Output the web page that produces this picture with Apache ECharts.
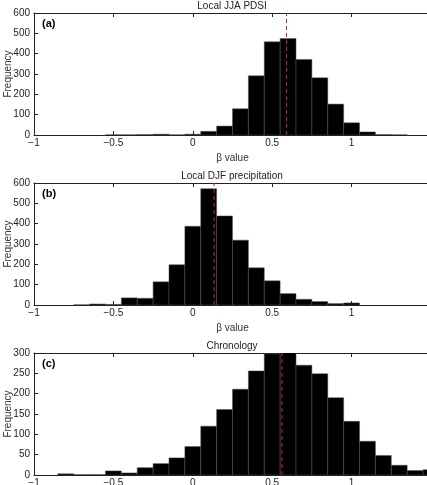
<!DOCTYPE html>
<html>
<head>
<meta charset="utf-8">
<script src="https://cdn.jsdelivr.net/npm/echarts@6/dist/echarts.min.js"></script>
<style>
  html, body { margin: 0; padding: 0; background: #fff; }
  #chart { width: 427px; height: 485px; }
</style>
</head>
<body>
<div id="chart"></div>
<script>
// bin centres (bin width 0.1)
var binCenters = [-0.9, -0.8, -0.7, -0.6, -0.5, -0.4, -0.3, -0.2, -0.1, 0, 0.1, 0.2, 0.3, 0.4,
                  0.5, 0.6, 0.7, 0.8, 0.9, 1.0, 1.1, 1.2, 1.3, 1.4, 1.5];
var pdsiCounts   = [0, 0, 0, 0, 1, 1, 2, 4, 1, 4, 18, 44, 129, 291, 458, 474, 371, 281, 152, 60, 15, 2, 1, 0, 0];
var precipCounts = [0, 0, 1, 5, 3, 35, 33, 114, 198, 387, 572, 438, 319, 183, 119, 56, 28, 17, 7, 10, 0, 0, 0, 0, 0];
var chronCounts  = [0, 3, 1, 1, 10, 5, 18, 28, 42, 70, 120, 161, 211, 256, 298, 305, 270, 249, 190, 132, 83, 48, 24, 11, 13];
var medians = [0.59, 0.134, 0.562];
var titles = ['Local JJA PDSI', 'Local DJF precipitation', 'Chronology'];
var panelLabels = ['(a)', '(b)', '(c)'];
var yMax = [600, 600, 300];
var yInterval = [100, 100, 50];
var xTicks = [-1, -0.5, 0, 0.5, 1, 1.5];
var binWidth = 0.1;

var chart = echarts.init(document.getElementById('chart'));

var gridTops = [13, 183, 353];
var gridH = 122;
var counts = [pdsiCounts, precipCounts, chronCounts];

var grids = [], xAxes = [], yAxes = [], series = [], titleList = [];
var fontFam = 'Liberation Sans, Arial, sans-serif';

for (var i = 0; i < 3; i++) {
    grids.push({ left: 34, right: -4, top: gridTops[i], height: gridH, containLabel: false, outerBoundsMode: 'none' });
    xAxes.push({
        type: 'value', gridIndex: i, min: xTicks[0], max: xTicks[xTicks.length - 1], interval: 0.5,
        position: 'bottom',
        name: i < 2 ? 'β value' : '', nameLocation: 'middle', nameGap: 18, nameMoveOverlap: false,
        nameTextStyle: { fontFamily: fontFam, fontSize: 10, color: '#333' },
        axisLine: { onZero: false, lineStyle: { color: '#222', width: 1 } },
        axisTick: { inside: true, length: 4, lineStyle: { color: '#222' } },
        axisLabel: {
            margin: 3, fontFamily: fontFam, fontSize: 10, color: '#222', showMaxLabel: false,
            formatter: function (v) { return String(v).replace('-', '\u2212'); }
        },
        splitLine: { show: false }
    });
    xAxes.push({
        type: 'value', gridIndex: i, min: xTicks[0], max: xTicks[xTicks.length - 1], interval: 0.5,
        position: 'top',
        axisLine: { onZero: false, lineStyle: { color: '#222', width: 1 } },
        axisTick: { inside: true, length: 4, lineStyle: { color: '#222' } },
        axisLabel: { show: false },
        splitLine: { show: false }
    });
    yAxes.push({
        type: 'value', gridIndex: i, min: 0, max: yMax[i], interval: yInterval[i],
        position: 'left',
        name: 'Frequency', nameLocation: 'middle', nameGap: 26, nameRotate: 90, nameMoveOverlap: false,
        nameTextStyle: { fontFamily: fontFam, fontSize: 10, color: '#333', verticalAlign: 'middle' },
        axisLine: { show: true, onZero: false, lineStyle: { color: '#222', width: 1 } },
        axisTick: { show: true, inside: true, length: 4, lineStyle: { color: '#222' } },
        axisLabel: { margin: 4, fontFamily: fontFam, fontSize: 10, color: '#222' },
        splitLine: { show: false }
    });

    var data = [];
    for (var k = 0; k < binCenters.length; k++) {
        if (counts[i][k] > 0) data.push([binCenters[k], counts[i][k]]);
    }
    series.push({
        type: 'custom', xAxisIndex: i * 2, yAxisIndex: i, clip: true,
        data: data,
        renderItem: function (params, api) {
            var c = api.value(0), v = api.value(1);
            var p0 = api.coord([c - binWidth / 2, v]);
            var p1 = api.coord([c + binWidth / 2, 0]);
            return {
                type: 'rect',
                shape: { x: p0[0], y: p0[1], width: p1[0] - p0[0], height: p1[1] - p0[1] },
                style: { fill: '#000', stroke: '#555', lineWidth: 0.5 }
            };
        },
        silent: true
    });
    series.push({
        type: 'line', xAxisIndex: i * 2, yAxisIndex: i,
        data: [[medians[i], 0], [medians[i], yMax[i]]],
        symbol: 'none', silent: true, z: 5,
        lineStyle: { color: '#c8202a', width: 1, type: [4, 3] }
    });

    titleList.push({
        text: titles[i], left: 232, top: gridTops[i] - 12, textAlign: 'center', padding: 0,
        textStyle: { fontFamily: fontFam, fontSize: 10, fontWeight: 'normal', color: '#222' }
    });
    titleList.push({
        text: panelLabels[i], left: 42, top: gridTops[i] + 5, padding: 0,
        textStyle: { fontFamily: fontFam, fontSize: 11, fontWeight: 'bold', color: '#000' }
    });
}

chart.setOption({
    animation: false,
    backgroundColor: '#fff',
    title: titleList,
    grid: grids,
    xAxis: xAxes,
    yAxis: yAxes,
    series: series
});
</script>
</body>
</html>
